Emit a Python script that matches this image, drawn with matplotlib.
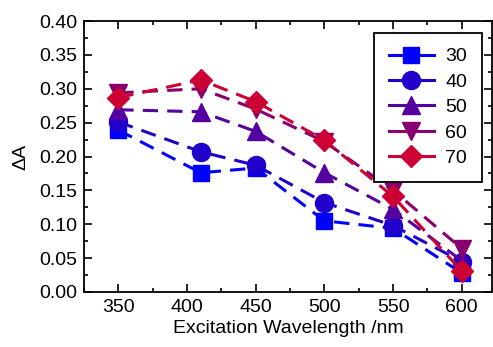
import numpy as np
import matplotlib.pyplot as plt
from matplotlib.ticker import MultipleLocator

plt.rcParams['font.family'] = ['Liberation Sans', 'DejaVu Sans']
plt.rcParams['font.size'] = 14

wavelength = [350, 410, 450, 500, 550, 600]
labels = ['30', '40', '50', '60', '70']
dA_30 = [0.239, 0.176, 0.183, 0.105, 0.094, 0.028]
dA_40 = [0.251, 0.207, 0.187, 0.132, 0.098, 0.045]
dA_50 = [0.269, 0.266, 0.237, 0.176, 0.122, 0.046]
dA_60 = [0.294, 0.300, 0.270, 0.222, 0.150, 0.064]
dA_70 = [0.287, 0.313, 0.281, 0.224, 0.141, 0.031]
series = [dA_30, dA_40, dA_50, dA_60, dA_70]

colors = ['#0000ff', '#2200cc', '#5500a0', '#880070', '#cc0033']
markers = ['s', 'o', '^', 'v', 'D']
msizes = [12, 13, 13, 13, 11.5]

fig = plt.figure(figsize=(4.93, 3.47), dpi=100)
ax = fig.add_axes([84/493, 1-292/347, 408/493, 271/347])

for y, lab, c, m, ms in zip(series, labels, colors, markers, msizes):
    ax.plot(wavelength, y, linestyle=(0, (5, 3)), lw=2.2, color=c,
            marker=m, markersize=ms, label=lab)

ax.set_xlim(325, 622)
ax.set_ylim(0, 0.40)
ax.xaxis.set_major_locator(MultipleLocator(50))
ax.xaxis.set_minor_locator(MultipleLocator(25))
ax.yaxis.set_major_locator(MultipleLocator(0.05))
ax.yaxis.set_minor_locator(MultipleLocator(0.025))
ax.yaxis.set_major_formatter(plt.FormatStrFormatter('%.2f'))
ax.tick_params(which='both', direction='in', top=True, right=True, width=1.2)
ax.tick_params(which='major', length=6, pad=5)
ax.tick_params(which='minor', length=3)
for s in ax.spines.values():
    s.set_linewidth(1.3)

ax.set_xlabel('Excitation Wavelength /nm', labelpad=3)
ax.set_ylabel('ΔA', labelpad=7)

leg = ax.legend(loc='upper right', bbox_to_anchor=(0.975, 0.955), fancybox=False,
                edgecolor='black', framealpha=1, handlelength=2.3,
                borderpad=0.75, labelspacing=0.4, handletextpad=0.6,
                borderaxespad=0)
leg.get_frame().set_linewidth(1.3)
# legend handles drawn with solid lines
for h in leg.legend_handles:
    h.set_linestyle('-')

plt.savefig('out.png', dpi=100)
